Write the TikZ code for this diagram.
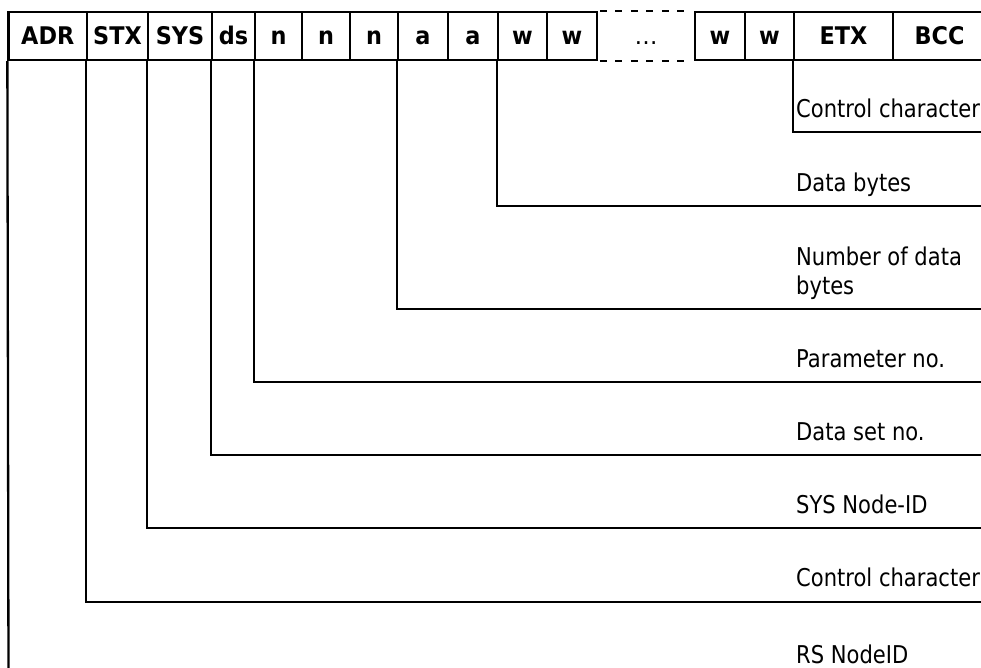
\documentclass[tikz,border=0pt]{standalone}
\usepackage{fontspec}
\setmainfont{DejaVu Sans}
\newfontfamily\labfont[FakeStretch=0.86]{DejaVu Sans}
\newfontfamily\headfont[FakeStretch=0.92]{DejaVu Sans Bold}
\begin{document}
\begin{tikzpicture}[x=1bp,y=-1bp,line width=2.3bp,
  cell/.style={draw, inner sep=0pt, minimum height=48bp, text height=17.4bp, text depth=0pt,
    font=\fontsize{24.3bp}{29bp}\selectfont\headfont},
  gapcell/.style={inner sep=0pt, minimum height=48bp, text height=16.8bp, text depth=0pt,
    font=\fontsize{23bp}{28bp}\selectfont},
  dashline/.style={line width=2.3bp, dash pattern=on 7bp off 8.5bp, dash phase=11.5bp},
  lab/.style={anchor=base west, inner sep=0pt, align=left,
    font=\fontsize{24.5bp}{28.5bp}\selectfont\labfont}]
\useasboundingbox (0,0) rectangle (981,668);
% header cells
\node[cell, minimum width=78.5bp] (adr) at (47.75,36) {ADR};
\node[cell, minimum width=61bp] (stx) at (117.5,36) {STX};
\node[cell, minimum width=64bp] (sys) at (180,36) {SYS};
\node[cell, minimum width=43bp] (ds) at (233.5,36) {ds};
\node[cell, minimum width=47bp] (n1) at (278.5,36) {n};
\node[cell, minimum width=48bp] (n2) at (326,36) {n};
\node[cell, minimum width=48bp] (n3) at (374,36) {n};
\node[cell, minimum width=50bp] (a1) at (423,36) {a};
\node[cell, minimum width=50bp] (a2) at (473,36) {a};
\node[cell, minimum width=49bp] (w1) at (522.5,36) {w};
\node[cell, minimum width=50bp] (w2) at (572,36) {w};
\node[gapcell, minimum width=98bp] (dots) at (646,36) {…};
\node[cell, minimum width=50bp] (w3) at (720,36) {w};
\node[cell, minimum width=49bp] (w4) at (769.5,36) {w};
\node[cell, minimum width=99bp] (etx) at (843.5,36) {ETX};
\node[cell, minimum width=93bp] (bcc) at (939.5,36) {BCC};
\draw[dashline] (dots.north west) -- ([xshift=-4bp]dots.north east);
\draw[dashline] (dots.south west) -- ([xshift=-4bp]dots.south east);
% connector ends
\coordinate (e1) at (990,132);
\coordinate (e2) at (990,206);
\coordinate (e3) at (990,309);
\coordinate (e4) at (990,382);
\coordinate (e5) at (990,455);
\coordinate (e6) at (990,528);
\coordinate (e7) at (990,602);
\coordinate (e8) at (8.5,680);
\draw (etx.south west) |- (e1);
\draw (w1.south west) |- (e2);
\draw (a1.south west) |- (e3);
\draw (n1.south west) |- (e4);
\draw (ds.south west) |- (e5);
\draw (sys.south west) |- (e6);
\draw (stx.south west) |- (e7);
\draw (adr.south west) -- (e8);
% labels
\node[lab] (l1) at (795,118) {Control character};
\node[lab] (l2) at (795,192) {Data bytes};
\node[lab] (l3) at (795,294) {Number of data\\bytes};
\node[lab] (l4) at (795,367) {Parameter no.};
\node[lab] (l5) at (795,440) {Data set no.};
\node[lab] (l6) at (795,513) {SYS Node-ID};
\node[lab] (l7) at (795,586) {Control character};
\node[lab] (l8) at (795,663) {RS NodeID};
\end{tikzpicture}
\end{document}
